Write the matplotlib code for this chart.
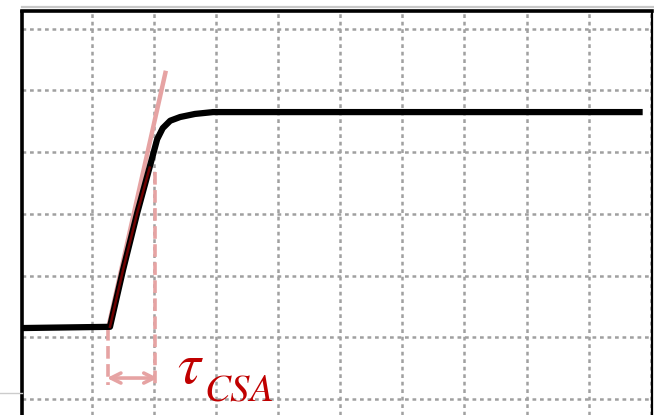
import matplotlib
matplotlib.use("Agg")
import matplotlib.pyplot as plt
from matplotlib.lines import Line2D

plt.rcParams['mathtext.fontset'] = 'stix'

# --- data, in scope divisions (x: time/div, y: volts/div) ---
curve_t = [-1.13, 0.29, 0.50, 0.73, 0.97, 1.05, 1.14, 1.26, 1.42, 1.66, 1.95, 8.87]
curve_v = [1.15, 1.17, 2.09, 3.02, 3.91, 4.21, 4.39, 4.51, 4.57, 4.62, 4.65, 4.65]
rise_t = [0.29, 0.50, 0.73, 0.93]
rise_v = [1.17, 2.09, 3.02, 3.75]
tangent_t = [0.26, 1.19]
tangent_v = [1.15, 5.32]
t_start = 0.26
t_end = 1.02
t_end_top = 3.68
marker_bottom = 0.23
arrow_v = 0.34
label_main = r'$\tau$'
label_sub = r'$CSA$'
x_grid = list(range(0, 10))
y_grid = list(range(0, 7))

PINK = '#e6a3a3'
DARKRED = '#c00000'

fig = plt.figure(figsize=(6.54, 4.15), dpi=100)
ax = fig.add_axes([22 / 654, 0.0, 630 / 654, 1 - 11.5 / 415])
ax.set_xlim(-1.127, 9.02)
ax.set_ylim(-0.259, 6.28)

# scope grid
ax.set_xticks(x_grid)
ax.set_yticks(y_grid)
ax.grid(True, color='#a0a0a0', linestyle=(0, (1.5, 1.5)), linewidth=1.8)
ax.tick_params(length=0, labelbottom=False, labelleft=False)
ax.set_axisbelow(True)

for side in ['left', 'top']:
    ax.spines[side].set_linewidth(2.6)
ax.spines['right'].set_linewidth(1.6)
ax.spines['bottom'].set_visible(False)

# pink tangent + markers
ax.plot(tangent_t, tangent_v, color=PINK, lw=3.2, solid_capstyle='butt', zorder=3)
ax.plot(curve_t, curve_v, color='black', lw=4.5, solid_joinstyle='round',
        solid_capstyle='butt', zorder=4)
ax.plot(rise_t, rise_v, color='#6e0000', lw=1.8, zorder=5)

ax.plot([t_start, t_start], [curve_v[0], marker_bottom], color=PINK, lw=2.6,
        linestyle=(0, (3.5, 1.5)), zorder=3)
ax.plot([t_end, t_end], [t_end_top, marker_bottom], color=PINK, lw=2.6,
        linestyle=(0, (3.5, 1.5)), zorder=3)
ax.annotate('', xy=(t_start - 0.02, arrow_v), xytext=(t_end + 0.04, arrow_v),
            arrowprops=dict(arrowstyle='<->', color=PINK, lw=2.6,
                            mutation_scale=18, shrinkA=0, shrinkB=0),
            zorder=3)

ax.text(1.37, 0.26, label_main, color=DARKRED, fontsize=42,
        ha='left', va='baseline', zorder=6)
ax.text(1.80, -0.02, label_sub, color=DARKRED, fontsize=28,
        ha='left', va='baseline', zorder=6)

# decorations outside the scope frame
fig.add_artist(Line2D([22 / 654, 1.0], [1 - 7 / 415, 1 - 7 / 415],
                      color='#c8c8c8', lw=1.6, transform=fig.transFigure))
fig.add_artist(Line2D([0.0, 22 / 654], [1 - 393 / 415, 1 - 393 / 415],
                      color='#cccccc', lw=1.0, transform=fig.transFigure))

fig.savefig('out.png', dpi=100)
